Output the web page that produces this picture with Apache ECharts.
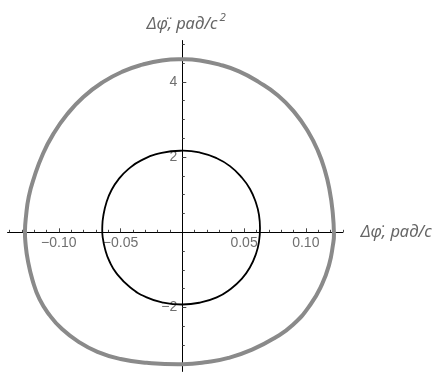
<!DOCTYPE html>
<html>
<head>
<meta charset="utf-8">
<style>
  html, body { margin: 0; padding: 0; background: #fff; }
  #chart { width: 433px; height: 372px; }
</style>
<script src="https://cdn.jsdelivr.net/npm/echarts@6/dist/echarts.min.js"></script>
</head>
<body>
<div id="chart"></div>
<script>
// Outer (large-amplitude) cycle, traced clockwise from the top
const outerX = [0, 0.0143, 0.0301, 0.0459, 0.0617, 0.0775, 0.0909, 0.1018, 0.1099, 0.1155, 0.1192, 0.1216, 0.1228,
  0.1220, 0.1189, 0.1130, 0.1038, 0.0896, 0.0747, 0.0565, 0.0374, 0.0204, 0,
  -0.0288, -0.0500, -0.0687, -0.0845, -0.0978, -0.1073, -0.1156, -0.1213, -0.1251, -0.1269, -0.1274,
  -0.1266, -0.1243, -0.1199, -0.1128, -0.1045, -0.0934, -0.0801, -0.0640, -0.0480, -0.0322, -0.0164, 0];
const outerY = [4.60, 4.57, 4.46, 4.28, 4.00, 3.64, 3.19, 2.68, 2.16, 1.64, 1.13, 0.59, -0.05,
  -0.33, -0.86, -1.39, -1.92, -2.46, -2.81, -3.12, -3.34, -3.45, -3.51,
  -3.47, -3.37, -3.18, -2.90, -2.56, -2.21, -1.78, -1.27, -0.74, -0.31, 0.03,
  0.41, 0.95, 1.47, 2.09, 2.61, 3.13, 3.60, 4.00, 4.28, 4.46, 4.57, 4.60];

// Inner (small-amplitude) cycle, traced clockwise from the top
const innerX = [0, 0.0143, 0.0279, 0.0386, 0.0481, 0.0548, 0.0597, 0.0621, 0.0629,
  0.0621, 0.0597, 0.0548, 0.0481, 0.0386, 0.0279, 0.0143, 0,
  -0.0154, -0.0288, -0.0423, -0.0531, -0.0590, -0.0625, -0.0645, -0.0648,
  -0.0640, -0.0612, -0.0572, -0.0518, -0.0437, -0.0329, -0.0167, 0];
const innerY = [2.17, 2.12, 1.97, 1.76, 1.46, 1.15, 0.78, 0.46, 0.10,
  -0.25, -0.57, -0.93, -1.24, -1.52, -1.73, -1.87, -1.92,
  -1.87, -1.73, -1.46, -1.10, -0.77, -0.45, -0.12, 0.12,
  0.43, 0.82, 1.13, 1.40, 1.68, 1.92, 2.11, 2.17];

// Tick positions
const xMajorTicks = [-0.10, -0.05, 0.05, 0.10];
const xMinorTicks = [-0.14, -0.13, -0.12, -0.11, -0.09, -0.08, -0.07, -0.06, -0.04, -0.03, -0.02, -0.01,
  0.01, 0.02, 0.03, 0.04, 0.06, 0.07, 0.08, 0.09, 0.11, 0.12, 0.13];
const yMajorTicks = [-2, 2, 4];
const yMinorTicks = [-3.5, -3, -2.5, -1.5, -1, -0.5, 0.5, 1, 1.5, 2.5, 3, 3.5, 4.5, 5];

const xName = 'Δφ̇, рад/с';
const yName = 'Δφ̈, рад/с';
const yNameSup = '2';

const FONT = "'Liberation Sans', Arial, sans-serif";
const NAME_FONT = "'Noto Sans', 'Liberation Sans', sans-serif";
const LABEL_COLOR = '#6f6f6f';
const NAME_COLOR = '#666';
const TICK_COLOR = '#444';

function fmtX(v) {
  const s = Math.abs(v).toFixed(2);
  return v < 0 ? '\u2212' + s : s;
}
function fmtY(v) {
  const s = String(Math.abs(v));
  return v < 0 ? '\u2212' + s : s;
}

const pairs = (xs, ys) => xs.map((x, i) => [x, ys[i]]);

const W = 433, H = 372;
const xMin = -0.1415, xMax = 0.13;
const yMin = -3.7, yMax = 5.1;
const grid = { left: 7.55, right: 90.15, top: 40.54, bottom: 0.58 };

// Both axes cross at the origin: shift them from the grid edges to the zero lines
const gridW = W - grid.left - grid.right;
const gridH = H - grid.top - grid.bottom;
const yAxisShift = -((0 - xMin) / (xMax - xMin)) * gridW;
const xAxisShift = -((0 - yMin) / (yMax - yMin)) * gridH;

// A closed, smoothly joined loop through the points, placed via the cartesian axes
function loopSeries(name, xs, ys, color, width, z) {
  const data = pairs(xs, ys);
  return {
    type: 'custom', name: name, coordinateSystem: 'cartesian2d',
    xAxisIndex: 0, yAxisIndex: 0,
    data: data,
    encode: { x: 0, y: 1 },
    clip: true,
    z: z,
    renderItem: function (params, api) {
      if (params.dataIndex !== 0) return null;
      const pts = data.slice(0, -1).map(function (p) { return api.coord(p); });
      return {
        type: 'polygon',
        silent: true,
        shape: { points: pts, smooth: 0.5 },
        style: { fill: 'none', stroke: color, lineWidth: width, lineJoin: 'round' }
      };
    }
  };
}

const chart = echarts.init(document.getElementById('chart'), null, { renderer: 'canvas' });

function xAxisBase() {
  return {
    type: 'value', min: xMin, max: xMax, position: 'bottom', offset: xAxisShift,
    splitLine: { show: false }
  };
}
function yAxisBase() {
  return {
    type: 'value', min: yMin, max: yMax, position: 'left', offset: yAxisShift,
    splitLine: { show: false }
  };
}

chart.setOption({
  animation: false,
  backgroundColor: '#fff',
  grid: Object.assign({ containLabel: false, outerBoundsMode: 'none' }, grid),
  xAxis: [
    Object.assign(xAxisBase(), {
      axisLine: { show: true, onZero: false, lineStyle: { color: '#000', width: 1 } },
      axisTick: { show: true, inside: true, length: 4, customValues: xMajorTicks, lineStyle: { color: TICK_COLOR, width: 1 } },
      axisLabel: { customValues: xMajorTicks, formatter: fmtX, color: LABEL_COLOR, fontSize: 14, fontFamily: FONT, margin: 4 },
      name: xName, nameLocation: 'end', nameGap: 18,
      nameTextStyle: { fontStyle: 'italic', fontSize: 16.5, color: NAME_COLOR, fontFamily: NAME_FONT, align: 'left', verticalAlign: 'middle', padding: [3, 0, 0, 0] }
    }),
    Object.assign(xAxisBase(), {
      axisLine: { show: false, onZero: false },
      axisTick: { show: true, inside: true, length: 2.5, customValues: xMinorTicks, lineStyle: { color: TICK_COLOR, width: 1 } },
      axisLabel: { show: false }
    })
  ],
  yAxis: [
    Object.assign(yAxisBase(), {
      axisLine: { show: true, onZero: false, lineStyle: { color: '#000', width: 1 } },
      axisTick: { show: true, inside: true, length: 4, customValues: yMajorTicks, lineStyle: { color: TICK_COLOR, width: 1 } },
      axisLabel: { customValues: yMajorTicks, formatter: fmtY, color: LABEL_COLOR, fontSize: 14, fontFamily: FONT, margin: 5 },
      name: '{a|' + yName + '}{s|' + yNameSup + '}', nameLocation: 'end', nameGap: 8,
      nameTextStyle: {
        color: NAME_COLOR, fontFamily: NAME_FONT, fontStyle: 'italic', fontSize: 16.5,
        padding: [0, 0, 0, 8],
        rich: {
          a: { fontStyle: 'italic', fontSize: 16.5, color: NAME_COLOR, fontFamily: NAME_FONT, verticalAlign: 'bottom' },
          s: { fontStyle: 'italic', fontSize: 11.5, color: NAME_COLOR, fontFamily: NAME_FONT, verticalAlign: 'top', padding: [0, 0, 8.5, 2] }
        }
      }
    }),
    Object.assign(yAxisBase(), {
      axisLine: { show: false, onZero: false },
      axisTick: { show: true, inside: true, length: 2.5, customValues: yMinorTicks, lineStyle: { color: TICK_COLOR, width: 1 } },
      axisLabel: { show: false }
    })
  ],
  series: [
    loopSeries('outer', outerX, outerY, '#8a8a8a', 4, 2),
    loopSeries('inner', innerX, innerY, '#000', 1.8, 3)
  ]
});
</script>
</body>
</html>
